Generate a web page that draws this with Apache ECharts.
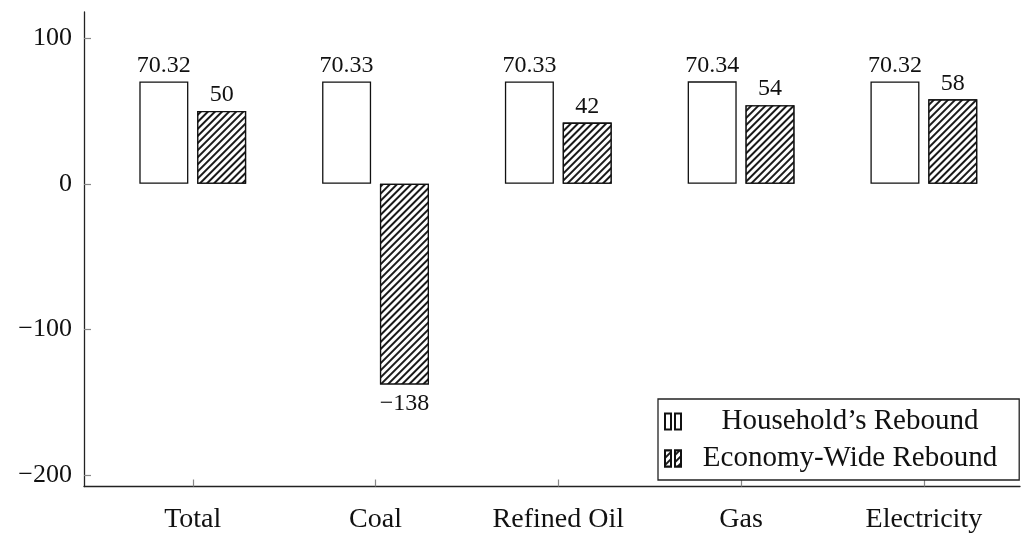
<!DOCTYPE html>
<html>
<head>
<meta charset="utf-8">
<script src="https://cdn.jsdelivr.net/npm/echarts@6/dist/echarts.min.js"></script>
<style>html,body{margin:0;padding:0;background:#fff}#c{width:1022px;height:534px}</style>
</head>
<body>
<div id="c"></div>
<script>
const categories = ['Total', 'Coal', 'Refined Oil', 'Gas', 'Electricity'];
const householdRebound = [70.32, 70.33, 70.33, 70.34, 70.32];
const economyWideRebound = [50, -138, 42, 54, 58];
const yTickValues = [-200, -100, 0, 100];
const seriesNames = ["Household\u2019s Rebound", 'Economy-Wide Rebound'];

const FONT = '"Liberation Serif", "DejaVu Serif", serif';
const fmtNum = v => String(v).replace('-', '\u2212');

const hatch = {
  symbol: 'rect', symbolSize: 1, color: '#1a1a1a', backgroundColor: '#ffffff',
  dashArrayX: [1, 0], dashArrayY: [1.6, 2.2], rotation: -Math.PI / 4
};

function toData(arr) {
  return arr.map((v, i) => ({
    value: [i, v],
    label: { position: v < 0 ? 'bottom' : 'top', distance: v < 0 ? 7 : 4 }
  }));
}

const chart = echarts.init(document.getElementById('c'), null, { renderer: 'canvas' });
chart.setOption({
  animation: false,
  backgroundColor: '#fff',
  grid: { left: 84, right: 2, top: 12, bottom: 47.5, outerBoundsMode: 'none' },
  xAxis: {
    type: 'value', min: -0.595, max: 4.526,
    splitLine: { show: false },
    axisLine: { show: true, onZero: false, lineStyle: { color: '#222', width: 1.3 } },
    axisTick: { show: true, inside: true, length: 7, customValues: [0, 1, 2, 3, 4], lineStyle: { color: '#888', width: 1.2 } },
    axisLabel: {
      customValues: [0, 1, 2, 3, 4], margin: 19,
      formatter: v => categories[Math.round(v)] || '',
      fontFamily: FONT, fontSize: 28, color: '#111'
    }
  },
  yAxis: {
    type: 'value', min: -208, max: 118,
    splitLine: { show: false },
    axisLine: { show: true, onZero: false, lineStyle: { color: '#222', width: 1.3 } },
    axisTick: { show: true, inside: true, length: 7, customValues: yTickValues, lineStyle: { color: '#888', width: 1.2 } },
    axisLabel: {
      customValues: yTickValues, margin: 12,
      formatter: v => fmtNum(v),
      fontFamily: FONT, fontSize: 26, color: '#111'
    }
  },
  legend: {
    orient: 'vertical', left: 658, top: 399,
    backgroundColor: '#fff', borderColor: '#222', borderWidth: 1.3, borderRadius: 0,
    padding: [8, 22, 7, 6], itemGap: 8, itemWidth: 18, itemHeight: 16,
    icon: 'path://M0,0 L6,0 L6,16 L0,16 Z M10,0 L16,0 L16,16 L10,16 Z',
    formatter: n => '{t|' + n + '}',
    textStyle: {
      fontFamily: FONT, fontSize: 29, color: '#111',
      rich: { t: { fontFamily: FONT, fontSize: 29, color: '#111', width: 326, align: 'center' } }
    },
    data: seriesNames
  },
  series: [
    {
      name: seriesNames[0], type: 'bar', barWidth: 49, barGap: '18%',
      itemStyle: { color: '#fff', borderColor: '#111', borderWidth: 1.3 },
      label: { show: true, fontFamily: FONT, fontSize: 24, color: '#111', formatter: p => fmtNum(p.value[1].toFixed(2)) },
      data: toData(householdRebound)
    },
    {
      name: seriesNames[1], type: 'bar', barWidth: 49, barGap: '18%',
      itemStyle: { color: '#fff', borderColor: '#111', borderWidth: 1.3, decal: hatch },
      label: { show: true, fontFamily: FONT, fontSize: 24, color: '#111', formatter: p => fmtNum(p.value[1]) },
      data: toData(economyWideRebound)
    }
  ]
});
</script>
</body>
</html>
